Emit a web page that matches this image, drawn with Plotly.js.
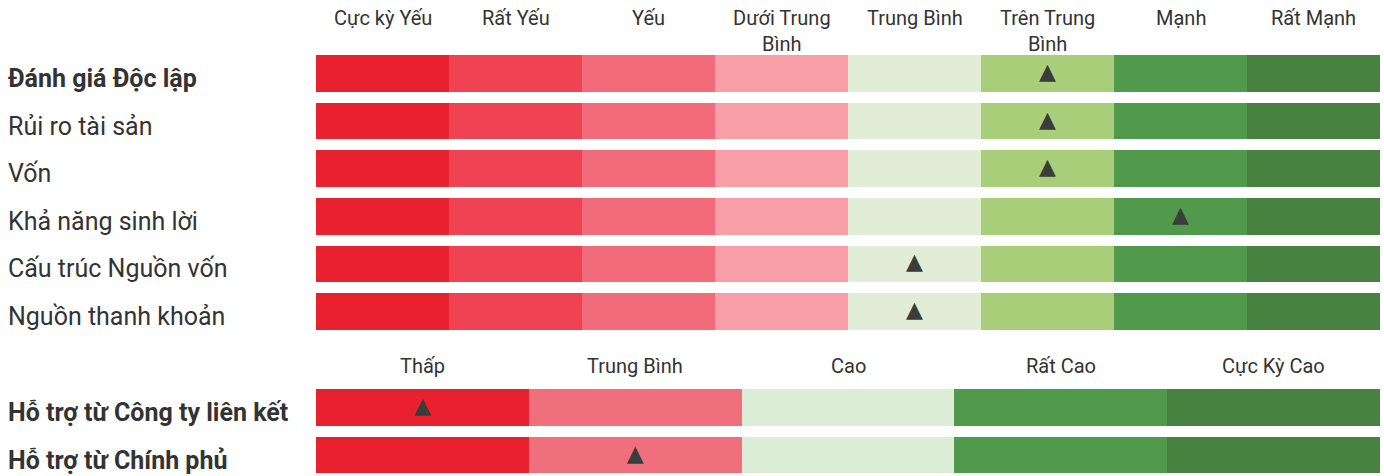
<!DOCTYPE html>
<html>
<head>
<meta charset="utf-8">
<script src="https://cdn.plot.ly/plotly-3.0.1.min.js"></script>
<style>
html,body{margin:0;padding:0;background:#fff;}
#chart{width:1384px;height:476px;}
</style>
</head>
<body>
<div id="chart"></div>
<script>
// ---- Data ----
const topLevels = ["Cực kỳ Yếu", "Rất Yếu", "Yếu", "Dưới Trung<br>Bình", "Trung Bình", "Trên Trung<br>Bình", "Mạnh", "Rất Mạnh"];
const topColors = ["#e9212e", "#ef4354", "#f16b7b", "#f79ea7", "#e1edd7", "#a8ce79", "#519a4b", "#488240"];
const topRows = ["<b>Đánh giá Độc lập</b>", "Rủi ro tài sản", "Vốn", "Khả năng sinh lời", "Cấu trúc Nguồn vốn", "Nguồn thanh khoản"];
const topScores = [5, 5, 5, 6, 4, 4];   // index into topLevels

const botLevels = ["Thấp", "Trung Bình", "Cao", "Rất Cao", "Cực Kỳ Cao"];
const botColors = ["#e9212e", "#f06f7c", "#dcedd6", "#519a4b", "#488240"];
const botRows = ["<b>Hỗ trợ từ Công ty liên kết</b>", "<b>Hỗ trợ từ Chính phủ</b>"];
const botScores = [0, 1];                // index into botLevels

// ---- Build traces ----
const traces = [];
topLevels.forEach((lv, i) => {
  traces.push({
    type: "bar", orientation: "h",
    x: topRows.map(() => 1), y: topRows,
    xaxis: "x", yaxis: "y",
    marker: {color: topColors[i], line: {width: 0}},
    hoverinfo: "skip", showlegend: false
  });
});
botLevels.forEach((lv, i) => {
  traces.push({
    type: "bar", orientation: "h",
    x: botRows.map(() => 1), y: botRows,
    xaxis: "x2", yaxis: "y2",
    marker: {color: botColors[i], line: {width: 0}},
    hoverinfo: "skip", showlegend: false
  });
});
const glyphFont = {family: "'DejaVu Sans', sans-serif", size: 22, color: "#3a3e3a"};
traces.push({
  type: "scatter", mode: "text",
  x: topScores.map(s => s + 0.5), y: topRows,
  text: topScores.map(() => "▲"), textposition: "middle center", textfont: glyphFont,
  xaxis: "x", yaxis: "y", hoverinfo: "skip", showlegend: false
});
traces.push({
  type: "scatter", mode: "text",
  x: botScores.map(s => s + 0.5), y: botRows,
  text: botScores.map(() => "▲"), textposition: "middle center", textfont: glyphFont,
  xaxis: "x2", yaxis: "y2", hoverinfo: "skip", showlegend: false
});

const W = 1384, H = 476;
const xDom = [316 / W, 1380 / W];
const hidden = {showgrid: false, zeroline: false, showticklabels: false, showline: false, ticks: "", fixedrange: true};

const annotations = [];
const font = "Roboto, 'Noto Sans', sans-serif";
topLevels.forEach((lv, i) => {
  annotations.push({
    text: lv, xref: "x", yref: "paper", x: i + 0.5, y: 1 - 4 / H,
    xanchor: "center", yanchor: "top", showarrow: false,
    font: {family: font, size: 20, color: "#333333"}
  });
});
botLevels.forEach((lv, i) => {
  annotations.push({
    text: lv, xref: "x2", yref: "paper", x: i + 0.5, y: 1 - 352 / H,
    xanchor: "center", yanchor: "top", showarrow: false,
    font: {family: font, size: 20, color: "#333333"}
  });
});
topRows.forEach((r, i) => {
  annotations.push({
    text: r, xref: "paper", yref: "y", x: 6 / W, y: r, yshift: -5,
    xanchor: "left", yanchor: "middle", showarrow: false,
    font: {family: font, size: 25, color: "#333333"}
  });
});
botRows.forEach((r, i) => {
  annotations.push({
    text: r, xref: "paper", yref: "y2", x: 6 / W, y: r, yshift: -5,
    xanchor: "left", yanchor: "middle", showarrow: false,
    font: {family: font, size: 25, color: "#333333"}
  });
});

const layout = {
  width: W, height: H,
  margin: {l: 0, r: 0, t: 0, b: 0, pad: 0},
  paper_bgcolor: "#ffffff", plot_bgcolor: "#ffffff",
  barmode: "stack", bargap: 0.23,
  xaxis: Object.assign({domain: xDom, range: [0, topLevels.length], anchor: "y"}, hidden),
  xaxis2: Object.assign({domain: xDom, range: [0, botLevels.length], anchor: "y2"}, hidden),
  yaxis: Object.assign({domain: [(H - 335.3) / H, (H - 49.7) / H], type: "category",
    categoryorder: "array", categoryarray: topRows, range: [5.5, -0.5], anchor: "x"}, hidden),
  yaxis2: Object.assign({domain: [0, (H - 383.75) / H], type: "category",
    categoryorder: "array", categoryarray: botRows, range: [1.442, -0.5], anchor: "x2"}, hidden),
  annotations: annotations,
  showlegend: false
};

Plotly.newPlot("chart", traces, layout, {displayModeBar: false, staticPlot: true});
</script>
</body>
</html>
